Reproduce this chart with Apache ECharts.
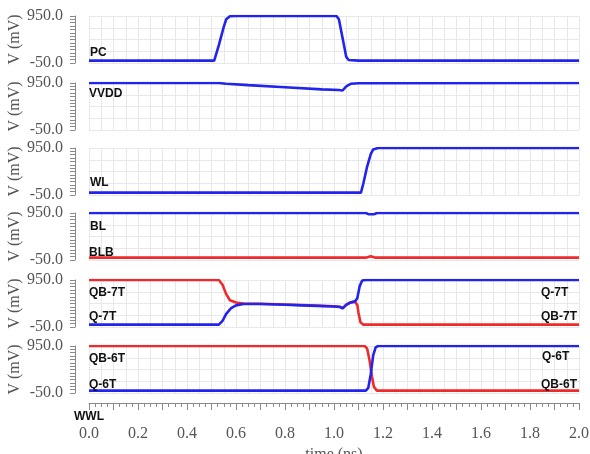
<!DOCTYPE html>
<html>
<head>
<meta charset="utf-8">
<script src="https://cdn.jsdelivr.net/npm/echarts@6.0.0/dist/echarts.min.js"></script>
<style>
    html, body { margin: 0; padding: 0; background: #fff; }
    #chart { width: 590px; height: 454px; }
</style>
</head>
<body>
<div id="chart"></div>
<script>
// 波形数据: [time (ns), V (mV)]
var pc = [[0, 0], [0.511, 0], [0.53, 330], [0.55, 720], [0.56, 880], [0.575, 945], [0.6, 950], [1.01, 950], [1.02, 880], [1.04, 350], [1.05, 80], [1.06, 15], [1.1, 0], [2, 0]];
var vvdd = [[0, 950], [0.53, 950], [0.56, 935], [0.65, 905], [0.8, 860], [0.95, 815], [1.02, 800], [1.035, 790], [1.05, 880], [1.07, 935], [1.1, 945], [2, 950]];
var wl = [[0, 0], [1.11, 0], [1.12, 200], [1.135, 550], [1.15, 820], [1.16, 920], [1.18, 950], [2, 950]];
var bl = [[0, 950], [1.13, 950], [1.14, 925], [1.165, 925], [1.175, 950], [2, 950]];
var blb = [[0, 0], [1.13, 0], [1.15, 30], [1.17, 0], [2, 0]];
var q7 = [[0, 0], [0.53, 0], [0.545, 80], [0.56, 230], [0.58, 350], [0.6, 410], [0.63, 440], [0.7, 440], [0.8, 425], [0.9, 405], [1.0, 385], [1.025, 375], [1.035, 345], [1.05, 420], [1.065, 465], [1.085, 490], [1.095, 560], [1.105, 820], [1.115, 940], [1.13, 950], [2, 950]];
var qb7 = [[0, 950], [0.53, 950], [0.545, 850], [0.56, 650], [0.575, 520], [0.6, 470], [0.63, 450], [0.7, 445], [0.8, 430], [0.9, 410], [1.0, 390], [1.025, 380], [1.035, 350], [1.05, 425], [1.065, 470], [1.085, 495], [1.095, 420], [1.1, 250], [1.108, 50], [1.12, 0], [2, 0]];
var q6 = [[0, 0], [1.13, 0], [1.14, 60], [1.15, 350], [1.16, 750], [1.17, 920], [1.18, 950], [2, 950]];
var qb6 = [[0, 950], [1.125, 950], [1.135, 900], [1.145, 650], [1.155, 300], [1.163, 80], [1.175, 0], [2, 0]];
var yTicks = [-50, 950];

var blue = '#2323ee', red = '#ee2a2a';
var panels = [
    [{name: 'PC', data: pc, color: blue}],
    [{name: 'VVDD', data: vvdd, color: blue}],
    [{name: 'WL', data: wl, color: blue}],
    [{name: 'BLB', data: blb, color: red}, {name: 'BL', data: bl, color: blue}],
    [{name: 'QB-7T', data: qb7, color: red}, {name: 'Q-7T', data: q7, color: blue}],
    [{name: 'QB-6T', data: qb6, color: red}, {name: 'Q-6T', data: q6, color: blue}]
];

var myChart = echarts.init(document.getElementById('chart'));
var tops = [16, 83, 148, 213, 280, 346];
var panelH = 47;
var serif = 'Liberation Serif';
var gridColor = '#e8e8e8';
var rulerColor = '#8a8a8a';

var grids = [], xAxes = [], yAxes = [], series = [];
panels.forEach(function (p, i) {
    grids.push({left: 89, right: 11, top: tops[i], height: panelH, containLabel: false, outerBoundsMode: 'none'});
    xAxes.push({
        gridIndex: i, type: 'value', min: 0, max: 2, interval: 0.2, position: 'bottom',
        axisLine: {show: false, onZero: false}, axisTick: {show: false},
        axisLabel: {
            show: i === 5, margin: 33, fontFamily: serif, fontSize: 16, color: '#555',
            formatter: function (v) { return v.toFixed(1); }
        },
        name: i === 5 ? 'time (ns)' : '', nameLocation: 'middle', nameGap: 54, nameMoveOverlap: false,
        nameTextStyle: {fontFamily: serif, fontSize: 16, color: '#555'},
        splitLine: {show: true, lineStyle: {color: gridColor}},
        minorTick: {show: false, splitNumber: 4},
        minorSplitLine: {show: true, lineStyle: {color: gridColor}}
    });
    yAxes.push({
        gridIndex: i, type: 'value', min: -50, max: 950, interval: 1000, position: 'left', offset: 14,
        name: 'V (mV)', nameLocation: 'middle', nameGap: 52, nameMoveOverlap: false,
        nameTextStyle: {fontFamily: serif, fontSize: 16, color: '#555'},
        axisLine: {show: true, onZero: false, lineStyle: {color: rulerColor}},
        axisTick: {show: true, length: 5, lineStyle: {color: rulerColor}},
        minorTick: {show: true, splitNumber: 14, length: 5, lineStyle: {color: rulerColor}},
        axisLabel: {
            margin: 12, fontFamily: serif, fontSize: 16, color: '#555',
            showMinLabel: true, showMaxLabel: true,
            formatter: function (v) { return yTicks.indexOf(v) >= 0 ? v.toFixed(1) : ''; }
        },
        splitLine: {show: false}
    });
    // 水平网格线
    yAxes.push({
        gridIndex: i, type: 'value', min: -50, max: 950, interval: 250, position: 'right',
        axisLine: {show: false, onZero: false}, axisTick: {show: false}, axisLabel: {show: false},
        splitLine: {show: true, lineStyle: {color: gridColor}}
    });
    p.forEach(function (s) {
        series.push({
            name: s.name, type: 'line', xAxisIndex: i, yAxisIndex: 2 * i,
            data: s.data, showSymbol: false, silent: true,
            lineStyle: {color: s.color, width: 2.6}, color: s.color
        });
    });
});
// 底部刻度尺
xAxes.push({
    gridIndex: 5, type: 'value', min: 0, max: 2, interval: 0.1, position: 'bottom', offset: 10,
    axisLine: {show: true, onZero: false, lineStyle: {color: rulerColor}},
    axisTick: {show: true, length: 7, lineStyle: {color: rulerColor}},
    minorTick: {show: true, splitNumber: 4, length: 4, lineStyle: {color: rulerColor}},
    axisLabel: {show: false}, splitLine: {show: false}
});

var labelFont = 'bold 12px "Liberation Sans"';
var labels = [
    ['PC', 90, 53], ['VVDD', 89, 94], ['WL', 90, 183], ['BL', 90, 227], ['BLB', 89, 253],
    ['QB-7T', 89, 293], ['Q-7T', 89, 317], ['QB-6T', 89, 359], ['Q-6T', 89, 385], ['WWL', 74, 417],
    ['Q-7T', 541, 293], ['QB-7T', 541, 317], ['Q-6T', 542, 357], ['QB-6T', 541, 385]
];

var option = {
    animation: false,
    grid: grids,
    xAxis: xAxes,
    yAxis: yAxes,
    series: series,
    graphic: labels.map(function (l) {
        return {
            type: 'text', x: l[1], y: l[2], z: 100,
            style: {text: l[0], font: labelFont, fill: '#111', verticalAlign: 'middle'}
        };
    })
};
myChart.setOption(option);
</script>
</body>
</html>
